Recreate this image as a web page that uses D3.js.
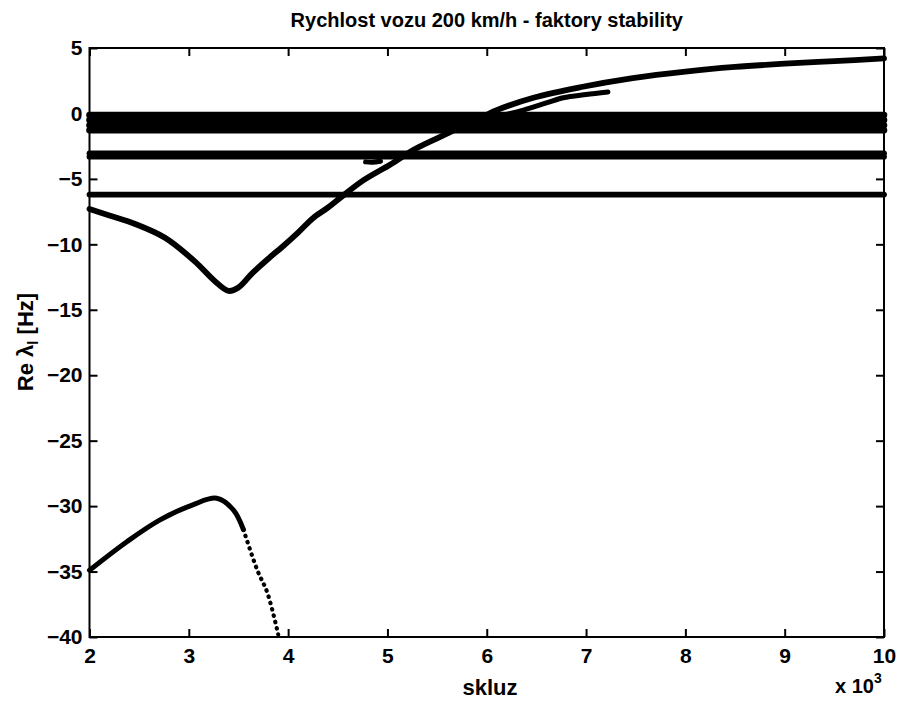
<!DOCTYPE html>
<html lang="cs">
<head>
<meta charset="UTF-8">
<title>Rychlost vozu 200 km/h - faktory stability</title>
<script src="https://d3js.org/d3.v7.min.js"></script>
<style>
  body { margin: 0; background: #fff; }
  text { font-family: "Liberation Sans", Arial, sans-serif; fill: #000; }
</style>
</head>
<body>
<svg id="chart" width="901" height="710"></svg>
<script>
// constant eigenvalues (horizontal bands), Hz
var bandLevels = [-0.12, -0.5, -0.9, -1.28, -3.05, -3.3, -6.2];
var bandRange = [2, 10];

// main branch (slip x 1e-3, Re lambda)
var mainX = [2.0, 2.2, 2.46, 2.76, 3.06, 3.26, 3.40, 3.5, 3.64, 3.8, 3.94, 4.1, 4.25, 4.4, 4.55, 4.76, 5.03, 5.26, 5.5, 5.75, 6.0, 6.1, 6.47, 6.94, 7.47, 8.0, 8.5, 9.0, 9.5, 10.0];
var mainY = [-7.3, -7.8, -8.45, -9.5, -11.3, -12.8, -13.56, -13.3, -12.2, -11.1, -10.2, -9.1, -8.0, -7.2, -6.3, -5.1, -3.9, -2.8, -1.9, -1.0, -0.1, 0.25, 1.2, 2.0, 2.7, 3.2, 3.55, 3.8, 4.0, 4.2];

// second branch that stops at ~7.2
var loopX = [5.8, 6.1, 6.37, 6.6, 6.77, 7.0, 7.22];
var loopY = [-1.2, -0.3, 0.25, 0.8, 1.2, 1.45, 1.64];

// small cluster under the -3 band
var blobX = [4.78, 4.85, 4.93];
var blobY = [-3.7, -3.72, -3.65];

// lower branch: dense part then sparse dots
var lowX = [2.0, 2.38, 2.71, 3.04, 3.28, 3.45, 3.55];
var lowY = [-34.9, -32.7, -31.05, -29.9, -29.4, -30.3, -31.8];
var lowDotX = [3.55, 3.69, 3.79, 3.90];
var lowDotY = [-31.8, -34.9, -36.6, -39.8];

var xTicks = [2, 3, 4, 5, 6, 7, 8, 9, 10];
var yTicks = [5, 0, -5, -10, -15, -20, -25, -30, -35, -40];

var svg = d3.select("#chart");
var pLeft = 89.5, pRight = 884, pTop = 48, pBottom = 637;

var x = d3.scaleLinear().domain([2, 10]).range([pLeft, pRight]);
var y = d3.scaleLinear().domain([-40, 5]).range([pBottom, pTop]);

function pts(xs, ys) { return xs.map(function (v, i) { return [v, ys[i]]; }); }

var line = d3.line()
    .x(function (d) { return x(d[0]); })
    .y(function (d) { return y(d[1]); })
    .curve(d3.curveCatmullRom);

var g = svg.append("g");

// bands
g.selectAll("path.band")
  .data(bandLevels)
  .join("path")
    .attr("class", "band")
    .attr("d", function (v) { return line([[bandRange[0], v], [bandRange[1], v]]); })
    .attr("fill", "none")
    .attr("stroke", "#000")
    .attr("stroke-width", function (v) { return v > -2 ? 6.6 : 5.8; })
    .attr("stroke-linecap", "round");

// curves
var curves = [
  { d: pts(mainX, mainY), w: 5.8 },
  { d: pts(loopX, loopY), w: 5 },
  { d: pts(blobX, blobY), w: 5 },
  { d: pts(lowX, lowY), w: 5 }
];
g.selectAll("path.curve")
  .data(curves)
  .join("path")
    .attr("class", "curve")
    .attr("d", function (c) { return line(c.d); })
    .attr("fill", "none")
    .attr("stroke", "#000")
    .attr("stroke-width", function (c) { return c.w; })
    .attr("stroke-linecap", "round");

g.append("path")
  .attr("d", line(pts(lowDotX, lowDotY)))
  .attr("fill", "none")
  .attr("stroke", "#000")
  .attr("stroke-width", 4.2)
  .attr("stroke-linecap", "round")
  .attr("stroke-dasharray", "0.5,6");

// axes box with inward ticks
svg.append("rect")
  .attr("x", pLeft).attr("y", pTop)
  .attr("width", pRight - pLeft).attr("height", pBottom - pTop)
  .attr("fill", "none").attr("stroke", "#000").attr("stroke-width", 2);

function styleAxis(sel) {
  sel.select(".domain").remove();
  sel.selectAll(".tick line").attr("stroke", "#000").attr("stroke-width", 2);
  sel.selectAll("text").attr("font-size", 21).attr("font-weight", "bold")
    .attr("font-family", "'Liberation Sans', Arial, sans-serif");
}

svg.append("g")
  .attr("transform", "translate(0," + pBottom + ")")
  .call(d3.axisBottom(x).tickValues(xTicks).tickSize(-8).tickPadding(11).tickFormat(d3.format("d")))
  .call(styleAxis);
svg.append("g")
  .attr("transform", "translate(0," + pTop + ")")
  .call(d3.axisTop(x).tickValues(xTicks).tickSize(-8).tickFormat(""))
  .call(styleAxis);
svg.append("g")
  .attr("transform", "translate(" + pLeft + ",0)")
  .call(d3.axisLeft(y).tickValues(yTicks).tickSize(-8).tickPadding(7).tickFormat(d3.format("d")))
  .call(styleAxis);
svg.append("g")
  .attr("transform", "translate(" + pRight + ",0)")
  .call(d3.axisRight(y).tickValues(yTicks).tickSize(-8).tickFormat(""))
  .call(styleAxis);

// labels
svg.append("text")
  .attr("x", (pLeft + pRight) / 2).attr("y", 27)
  .attr("text-anchor", "middle")
  .attr("font-size", 20).attr("font-weight", "bold")
  .text("Rychlost vozu 200 km/h - faktory stability");

svg.append("text")
  .attr("x", 490).attr("y", 695)
  .attr("text-anchor", "middle")
  .attr("font-size", 22).attr("font-weight", "bold")
  .text("skluz");

var ylab = svg.append("text")
  .attr("transform", "translate(33,342) rotate(-90)")
  .attr("text-anchor", "middle")
  .attr("font-size", 22).attr("font-weight", "bold");
ylab.append("tspan").text("Re \u03bb");
ylab.append("tspan").attr("font-size", 15).attr("dy", 5).text("l");
ylab.append("tspan").attr("dy", -5).text(" [Hz]");

var mult = svg.append("text")
  .attr("x", 835).attr("y", 693)
  .attr("font-size", 20).attr("font-weight", "bold");
mult.append("tspan").text("x 10");
mult.append("tspan").attr("font-size", 14).attr("dy", -10).text("3");
</script>
</body>
</html>
